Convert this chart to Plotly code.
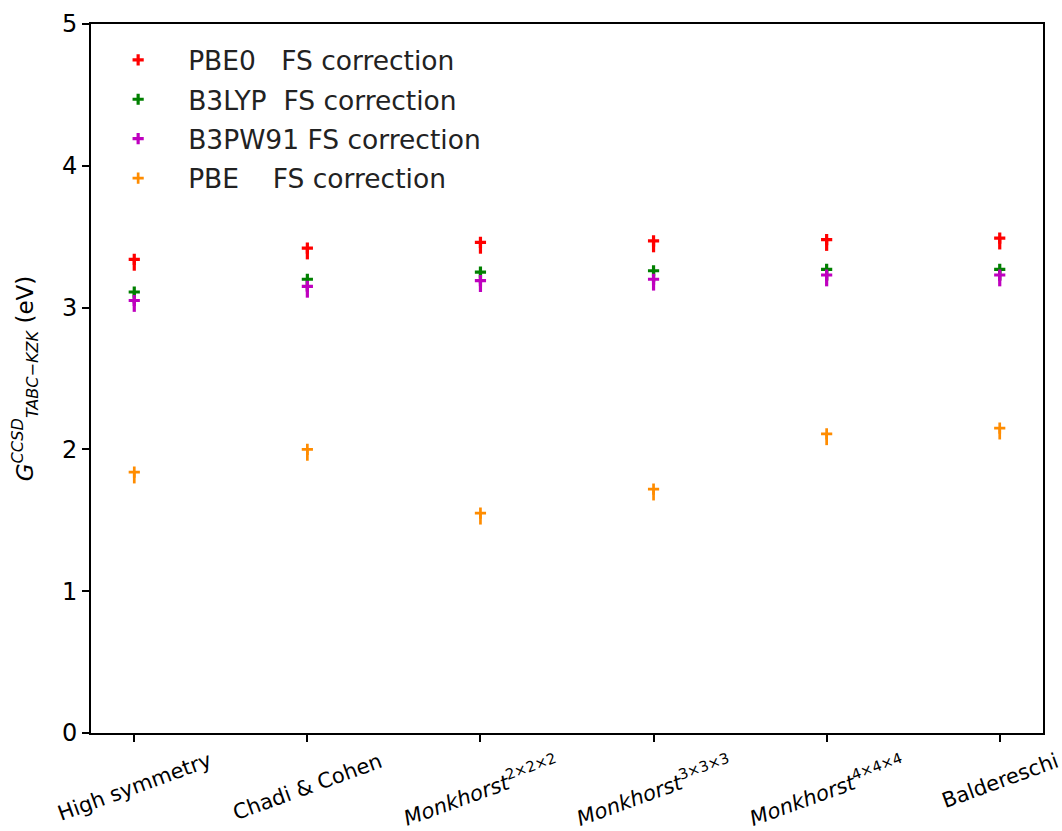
import plotly.graph_objects as go

categories = ["High symmetry", "Chadi & Cohen", "Monkhorst 2×2×2",
              "Monkhorst 3×3×3", "Monkhorst 4×4×4", "Baldereschi"]
tick_labels = ["High symmetry", "Chadi &amp; Cohen",
               "<i>Monkhorst</i><sup>2×2×2</sup>",
               "<i>Monkhorst</i><sup>3×3×3</sup>",
               "<i>Monkhorst</i><sup>4×4×4</sup>",
               "Baldereschi"]

pbe0 = [3.34, 3.42, 3.46, 3.47, 3.48, 3.49]
b3lyp = [3.11, 3.20, 3.25, 3.26, 3.27, 3.27]
b3pw91 = [3.05, 3.15, 3.19, 3.20, 3.23, 3.23]
pbe = [1.84, 2.00, 1.55, 1.72, 2.11, 2.15]

series_names = ["PBE0\u00a0\u00a0\u00a0FS correction",
                "B3LYP\u00a0\u00a0FS correction",
                "B3PW91 FS correction",
                "PBE\u00a0\u00a0\u00a0\u00a0FS correction"]
series_values = [pbe0, b3lyp, b3pw91, pbe]
colors = ["#ff0000", "#008000", "#bf00bf", "#ff8c00"]

FONT = "DejaVu Sans"
x_idx = list(range(len(categories)))
tail = 0.08  # dagger tail length (style)

fig = go.Figure()
for name, vals, col in zip(series_names, series_values, colors):
    lw = 3.2 if col != "#ff8c00" else 2.7
    fig.add_trace(go.Scatter(
        x=x_idx, y=vals, mode="markers", name=name, legendgroup=name,
        marker=dict(symbol="cross-thin", size=8, color=col,
                    line=dict(color=col, width=lw)),
        error_y=dict(type="data", symmetric=False,
                     array=[0] * len(vals), arrayminus=[tail] * len(vals),
                     color=col, thickness=lw, width=0),
    ))

for i, lab in enumerate(tick_labels):
    fig.add_annotation(x=i, y=0, xref="x", yref="y", text=lab,
                       showarrow=False, textangle=-20,
                       xanchor="center", yanchor="top", yshift=-13,
                       font=dict(family=FONT, size=21, color="black"))

fig.update_layout(
    width=1062, height=831,
    margin=dict(l=91, r=19, t=24, b=98),
    paper_bgcolor="white", plot_bgcolor="white",
    font=dict(family=FONT, size=22, color="black"),
    showlegend=True,
    legend=dict(x=-0.003, y=0.983, xanchor="left", yanchor="top",
                bgcolor="rgba(0,0,0,0)", borderwidth=0,
                font=dict(family=FONT, size=26.5, color="#222"),
                tracegroupgap=2, itemwidth=90),
    xaxis=dict(range=[-0.25, 5.25], tickvals=x_idx, showticklabels=False,
               automargin=False,
               showgrid=False, zeroline=False, showline=True, mirror=True,
               linecolor="black", linewidth=1.6, ticks="outside",
               ticklen=7, tickwidth=1.6, tickcolor="black"),
    yaxis=dict(range=[0, 5], tickvals=[0, 1, 2, 3, 4, 5], automargin=False,
               showgrid=False, zeroline=False, showline=True, mirror=True,
               linecolor="black", linewidth=1.6, ticks="outside",
               ticklen=7, tickwidth=1.6, tickcolor="black",
               tickfont=dict(family=FONT, size=24, color="black"),
               title=dict(text="<i>G</i><sup><i>CCSD</i></sup><sub><i>TABC−KZK</i></sub> (eV)",
                          font=dict(family=FONT, size=23, color="black"),
                          standoff=22)),
)

fig.write_html("out.html",
               config={"displayModeBar": False},
               post_script="document.body.style.margin='0';"
                           "document.body.style.overflow='hidden';")
